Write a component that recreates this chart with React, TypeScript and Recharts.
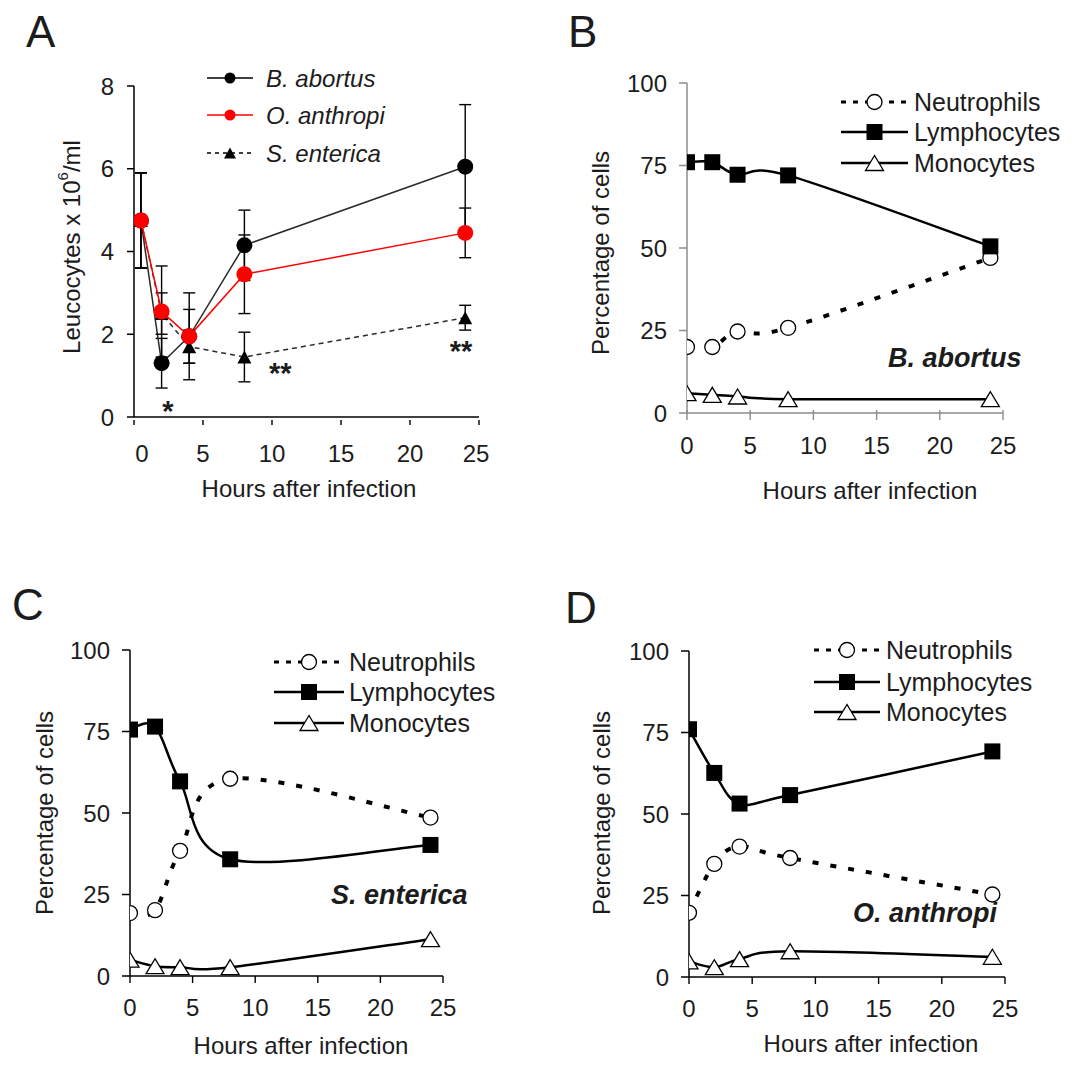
import React from "react";
import { LineChart, Line, XAxis, YAxis, ErrorBar, ReferenceDot } from "recharts";

const FONT = "Arial, 'Liberation Sans', Helvetica, sans-serif";
const INK = "#1c1c1c";

// ---- panel A: leucocyte counts (x 10^6/ml) ----
const hoursA = [0.5, 2, 4, 8, 24];
const abortusCount = [4.75, 1.3, 1.95, 4.15, 6.05];
const abortusErr = [1.15, 0.6, 0.65, 0.85, 1.5];
const anthropiCount = [4.75, 2.55, 1.95, 3.45, 4.45];
const anthropiErr = [1.15, 1.1, 1.05, 0.95, 0.6];
const entericaCount = [4.75, 2.5, 1.7, 1.45, 2.4];
const entericaErr = [1.15, 0.5, 0.4, 0.6, 0.3];
const starNotes = [
  { x: 2.45, y: 0.3, text: "*" },
  { x: 10.6, y: 1.2, text: "**" },
  { x: 23.7, y: 1.75, text: "**" },
];

// ---- panels B-D: percentage of cells ----
const hours = [0, 2, 4, 8, 24];
const abortusNeu = [20, 20, 24.7, 25.8, 47];
const abortusLym = [76, 76, 72.2, 72, 50.5];
const abortusMon = [6, 5.5, 5, 4.2, 4.2];
const entericaNeu = [19.3, 20.2, 38.4, 60.5, 48.6];
const entericaLym = [75.6, 76.5, 59.7, 35.8, 40.2];
const entericaMon = [5, 3, 2.7, 2.7, 11.3];
const anthropiNeu = [19.7, 34.7, 40, 36.5, 25.3];
const anthropiLym = [76, 62.6, 53.2, 55.8, 69.2];
const anthropiMon = [4.8, 3, 5.5, 7.9, 6.2];

const xTicks = [0, 5, 10, 15, 20, 25];
const yTicksA = [0, 2, 4, 6, 8];
const yTicksPct = [0, 25, 50, 75, 100];

// Excel-style smoothed line (Catmull-Rom through the points)
function smoothCurve(context: any) {
  let pts: number[][] = [];
  return {
    areaStart() {},
    areaEnd() {},
    lineStart() {
      pts = [];
    },
    lineEnd() {
      const n = pts.length;
      if (!n) return;
      context.moveTo(pts[0][0], pts[0][1]);
      for (let i = 0; i < n - 1; i++) {
        const p0 = pts[Math.max(i - 1, 0)];
        const p1 = pts[i];
        const p2 = pts[i + 1];
        const p3 = pts[Math.min(i + 2, n - 1)];
        context.bezierCurveTo(
          p1[0] + (p2[0] - p0[0]) / 6,
          p1[1] + (p2[1] - p0[1]) / 6,
          p2[0] - (p3[0] - p1[0]) / 6,
          p2[1] - (p3[1] - p1[1]) / 6,
          p2[0],
          p2[1]
        );
      }
    },
    point(x: number, y: number) {
      pts.push([+x, +y]);
    },
  };
}

type MarkerKind = "dotBlack" | "dotRed" | "triFilled" | "openCircle" | "square" | "openTriangle";

function marker(kind: MarkerKind, cx: number, cy: number, key: any, small = false) {
  if (cx == null || cy == null) return <g key={key} />;
  switch (kind) {
    case "dotBlack":
      return <circle key={key} cx={cx} cy={cy} r={small ? 5.5 : 8} fill="#000" />;
    case "dotRed":
      return <circle key={key} cx={cx} cy={cy} r={small ? 5.5 : 8} fill="#ff0000" />;
    case "triFilled": {
      const w = small ? 12 : 14;
      const h = small ? 11 : 13;
      return (
        <polygon
          key={key}
          points={`${cx},${cy - h / 2} ${cx - w / 2},${cy + h / 2} ${cx + w / 2},${cy + h / 2}`}
          fill="#000"
        />
      );
    }
    case "openCircle":
      return <circle key={key} cx={cx} cy={cy} r={7.5} fill="#fff" stroke="#000" strokeWidth={1.3} />;
    case "square":
      return <rect key={key} x={cx - 8} y={cy - 8} width={16} height={16} fill="#000" />;
    case "openTriangle":
    default: {
      const w = 18;
      const h = 15;
      return (
        <polygon
          key={key}
          points={`${cx},${cy - h / 2} ${cx - w / 2},${cy + h / 2} ${cx + w / 2},${cy + h / 2}`}
          fill="#fff"
          stroke="#000"
          strokeWidth={1.3}
          strokeLinejoin="miter"
        />
      );
    }
  }
}

const dotOf = (kind: MarkerKind) => (p: any) => marker(kind, p.cx, p.cy, `m-${kind}-${p.index}`);

function makeXTick(opts: {
  color: string;
  cross: boolean;
  from: number;
  to: number;
  labelDy: number;
  firstDx?: number;
  lastDx?: number;
}) {
  return (props: any) => {
    const { x, y, payload, index } = props;
    const dx = index === 0 ? opts.firstDx ?? 0 : index === xTicks.length - 1 ? opts.lastDx ?? 0 : 0;
    return (
      <g>
        <line
          x1={x}
          x2={x}
          y1={y + (opts.cross ? -3 : opts.from)}
          y2={y + opts.to}
          stroke={opts.color}
          strokeWidth={1.4}
        />
        <text x={x + dx} y={y + opts.labelDy} textAnchor="middle" fontSize={24} fill={INK} fontFamily={FONT}>
          {payload.value}
        </text>
      </g>
    );
  };
}

function PanelA() {
  const data = hoursA.map((h, i) => ({
    h,
    ab: abortusCount[i],
    abE: abortusErr[i],
    an: anthropiCount[i],
    anE: anthropiErr[i],
    en: entericaCount[i],
    enE: entericaErr[i],
  }));
  const axis = { stroke: "#000", strokeWidth: 1.5 };
  return (
    <LineChart width={540} height={540} data={data} margin={{ top: 86, right: 61, bottom: 63, left: 74 }}>
      <XAxis
        dataKey="h"
        type="number"
        domain={[0, 25]}
        ticks={xTicks}
        interval={0}
        allowDataOverflow
        axisLine={axis}
        tickLine={false}
        tickSize={0}
        tickMargin={0}
        height={60}
        tick={makeXTick({ color: "#000", cross: false, from: 3, to: 8, labelDy: 45, firstDx: 8, lastDx: -3 })}
      />
      <YAxis
        type="number"
        domain={[0, 8]}
        ticks={yTicksA}
        interval={0}
        width={60}
        axisLine={axis}
        tickLine={axis}
        tickSize={7}
        tickMargin={13}
        tick={{ fontSize: 24, fill: INK, fontFamily: FONT }}
      />
      <Line
        dataKey="ab"
        stroke="#2a2a2a"
        strokeWidth={1.5}
        type="linear"
        dot={dotOf("dotBlack")}
        activeDot={false}
        isAnimationActive={false}
      >
        <ErrorBar dataKey="abE" direction="y" width={6} stroke="#000" strokeWidth={1.4} />
      </Line>
      <Line
        dataKey="en"
        stroke="#2a2a2a"
        strokeWidth={1.5}
        strokeDasharray="5 4"
        type="linear"
        dot={dotOf("triFilled")}
        activeDot={false}
        isAnimationActive={false}
      >
        <ErrorBar dataKey="enE" direction="y" width={6} stroke="#000" strokeWidth={1.4} />
      </Line>
      <Line
        dataKey="an"
        stroke="#ff0000"
        strokeWidth={1.5}
        type="linear"
        dot={dotOf("dotRed")}
        activeDot={false}
        isAnimationActive={false}
      >
        <ErrorBar dataKey="anE" direction="y" width={6} stroke="#000" strokeWidth={1.4} />
      </Line>
      {starNotes.map((s, i) => (
        <ReferenceDot
          key={i}
          x={s.x}
          y={s.y}
          r={0}
          ifOverflow="visible"
          shape={(p: any) => (
            <text
              x={p.cx}
              y={p.cy + 16}
              textAnchor="middle"
              fontSize={29}
              fontWeight="bold"
              fill={INK}
              fontFamily={FONT}
            >
              {s.text}
            </text>
          )}
        />
      ))}
    </LineChart>
  );
}

function CellPanel(props: {
  neu: number[];
  lym: number[];
  mon: number[];
  axisColor: string;
  cross: boolean;
  labelDy: number;
  width: number;
  height: number;
  margin: { top: number; right: number; bottom: number; left: number };
}) {
  const { neu, lym, mon, axisColor } = props;
  const data = hours.map((h, i) => ({ h, neu: neu[i], lym: lym[i], mon: mon[i] }));
  const axis = { stroke: axisColor, strokeWidth: 1.5 };
  return (
    <LineChart width={props.width} height={props.height} data={data} margin={props.margin}>
      <XAxis
        dataKey="h"
        type="number"
        domain={[0, 25]}
        ticks={xTicks}
        interval={0}
        allowDataOverflow
        axisLine={axis}
        tickLine={false}
        tickSize={0}
        tickMargin={0}
        height={60}
        tick={makeXTick({ color: axisColor, cross: props.cross, from: 0, to: 7, labelDy: props.labelDy })}
      />
      <YAxis
        type="number"
        domain={[0, 100]}
        ticks={yTicksPct}
        interval={0}
        width={60}
        axisLine={axis}
        tickLine={axis}
        tickSize={8}
        tickMargin={12}
        tick={{ fontSize: 24, fill: INK, fontFamily: FONT }}
      />
      <Line
        dataKey="neu"
        stroke="#000"
        strokeWidth={4}
        strokeDasharray="6 12"
        type={smoothCurve as any}
        dot={dotOf("openCircle")}
        activeDot={false}
        isAnimationActive={false}
      />
      <Line
        dataKey="lym"
        stroke="#000"
        strokeWidth={2.5}
        type={smoothCurve as any}
        dot={dotOf("square")}
        activeDot={false}
        isAnimationActive={false}
      />
      <Line
        dataKey="mon"
        stroke="#000"
        strokeWidth={2.5}
        type={smoothCurve as any}
        dot={dotOf("openTriangle")}
        activeDot={false}
        isAnimationActive={false}
      />
    </LineChart>
  );
}

const legendA = [
  { name: "B. abortus", color: "#000", dash: undefined as string | undefined, marker: "dotBlack" as MarkerKind },
  { name: "O. anthropi", color: "#ff0000", dash: undefined, marker: "dotRed" as MarkerKind },
  { name: "S. enterica", color: "#000", dash: "4 4", marker: "triFilled" as MarkerKind },
];
const legendCells = [
  { name: "Neutrophils", dash: "5 7" as string | undefined, width: 3, marker: "openCircle" as MarkerKind },
  { name: "Lymphocytes", dash: undefined, width: 2.5, marker: "square" as MarkerKind },
  { name: "Monocytes", dash: undefined, width: 2.5, marker: "openTriangle" as MarkerKind },
];

function CellLegend({ x0, x1, rows, textX }: { x0: number; x1: number; rows: number[]; textX: number }) {
  const mid = (x0 + x1) / 2;
  return (
    <g>
      {legendCells.map((s, i) => (
        <g key={s.name}>
          <line x1={x0} x2={x1} y1={rows[i]} y2={rows[i]} stroke="#000" strokeWidth={s.width} strokeDasharray={s.dash} />
          {marker(s.marker, mid, rows[i], "lg" + i)}
          <text x={textX} y={rows[i]} dominantBaseline="central" fontSize={25} fill={INK} fontFamily={FONT}>
            {s.name}
          </text>
        </g>
      ))}
    </g>
  );
}

function YTitle({ x, y, children }: { x: number; y: number; children: React.ReactNode }) {
  return (
    <text
      transform={`translate(${x},${y}) rotate(-90)`}
      textAnchor="middle"
      dominantBaseline="central"
      fontSize={24}
      fill={INK}
      fontFamily={FONT}
    >
      {children}
    </text>
  );
}

function XTitle({ x, y }: { x: number; y: number }) {
  return (
    <text x={x} y={y} textAnchor="middle" dominantBaseline="central" fontSize={24} fill={INK} fontFamily={FONT}>
      Hours after infection
    </text>
  );
}

function Letter({ x, y, children }: { x: number; y: number; children: string }) {
  return (
    <text x={x} y={y} fontSize={44} fill={INK} fontFamily={FONT}>
      {children}
    </text>
  );
}

function Species({ x, y, children }: { x: number; y: number; children: string }) {
  return (
    <text
      x={x}
      y={y}
      dominantBaseline="central"
      fontSize={27}
      fontWeight="bold"
      fontStyle="italic"
      fill={INK}
      fontFamily={FONT}
    >
      {children}
    </text>
  );
}

export default function App() {
  return (
    <div style={{ position: "absolute", left: 0, top: 0, width: 1076, height: 1077, background: "#fff" }}>
      <div style={{ position: "absolute", left: 0, top: 0 }}>
        <PanelA />
      </div>
      <div style={{ position: "absolute", left: 540, top: 0 }}>
        <CellPanel
          neu={abortusNeu}
          lym={abortusLym}
          mon={abortusMon}
          axisColor="#8c8c8c"
          cross
          labelDy={41}
          width={536}
          height={540}
          margin={{ top: 83, right: 73, bottom: 67, left: 87 }}
        />
      </div>
      <div style={{ position: "absolute", left: 0, top: 540 }}>
        <CellPanel
          neu={entericaNeu}
          lym={entericaLym}
          mon={entericaMon}
          axisColor="#000"
          cross={false}
          labelDy={40}
          width={540}
          height={537}
          margin={{ top: 110, right: 97, bottom: 41, left: 70 }}
        />
      </div>
      <div style={{ position: "absolute", left: 540, top: 540 }}>
        <CellPanel
          neu={anthropiNeu}
          lym={anthropiLym}
          mon={anthropiMon}
          axisColor="#000"
          cross={false}
          labelDy={40}
          width={536}
          height={537}
          margin={{ top: 111, right: 71, bottom: 40, left: 89 }}
        />
      </div>

      <svg
        width={1076}
        height={1077}
        style={{ position: "absolute", left: 0, top: 0, pointerEvents: "none" }}
      >
        {/* panel A */}
        <Letter x={26} y={47}>A</Letter>
        <YTitle x={71} y={247}>
          Leucocytes x 10
          <tspan dy={-9} fontSize={15}>6</tspan>
          <tspan dy={9}>/ml</tspan>
        </YTitle>
        <XTitle x={309} y={488} />
        {legendA.map((s, i) => {
          const y = [78, 115, 153][i];
          return (
            <g key={s.name}>
              <line x1={207} x2={253} y1={y} y2={y} stroke={s.color} strokeWidth={1.5} strokeDasharray={s.dash} />
              {marker(s.marker, 230, y, "la" + i, true)}
              <text
                x={266}
                y={y}
                dominantBaseline="central"
                fontSize={24}
                fontStyle="italic"
                fill={INK}
                fontFamily={FONT}
              >
                {s.name}
              </text>
            </g>
          );
        })}

        {/* panel B */}
        <Letter x={568} y={47}>B</Letter>
        <YTitle x={600} y={253}>Percentage of cells</YTitle>
        <XTitle x={870} y={490} />
        <CellLegend x0={841} x1={908} rows={[102, 132, 163]} textX={914} />
        <Species x={888} y={358}>B. abortus</Species>

        {/* panel C */}
        <Letter x={12} y={620}>C</Letter>
        <YTitle x={44} y={813}>Percentage of cells</YTitle>
        <XTitle x={301} y={1045} />
        <CellLegend x0={274} x1={344} rows={[662, 692, 723]} textX={349} />
        <Species x={331} y={895}>S. enterica</Species>

        {/* panel D */}
        <Letter x={565} y={623}>D</Letter>
        <YTitle x={601} y={813}>Percentage of cells</YTitle>
        <XTitle x={871} y={1043} />
        <CellLegend x0={814} x1={880} rows={[650, 682, 712]} textX={886} />
        <Species x={853} y={913}>O. anthropi</Species>
      </svg>
    </div>
  );
}
